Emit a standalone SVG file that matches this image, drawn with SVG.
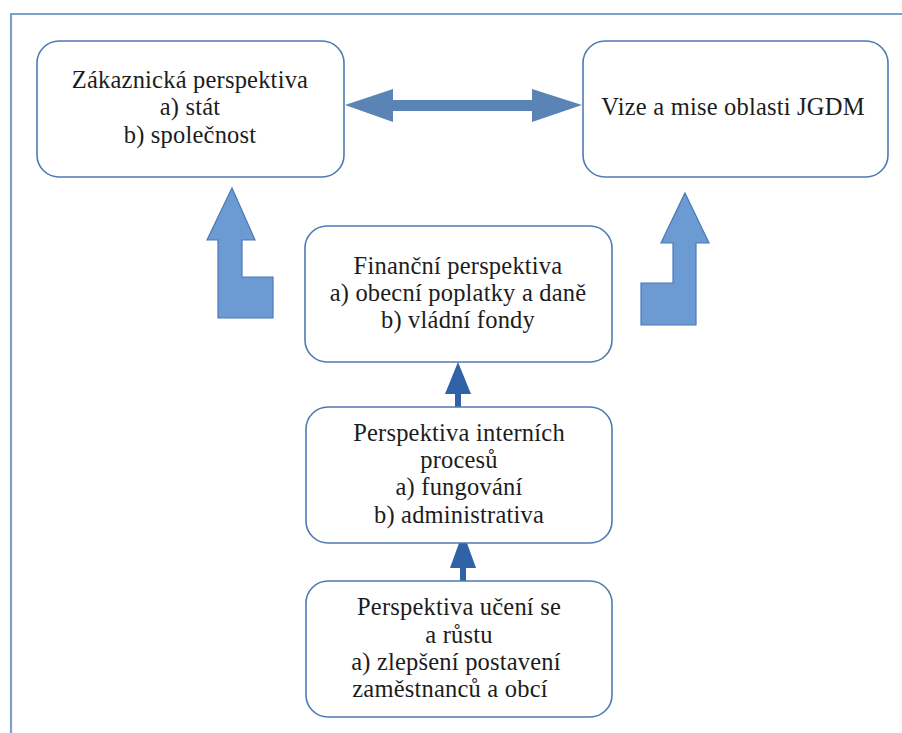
<svg xmlns="http://www.w3.org/2000/svg" width="902" height="733" viewBox="0 0 902 733">
  <style>
    .box { fill: #ffffff; stroke: #4f7ab3; stroke-width: 1.6; }
    .label { font-family: "Liberation Serif", "Times New Roman", serif; font-size: 24.5px; letter-spacing: 0.2px; fill: #1c1c1c; text-anchor: middle; }
    .bent { fill: #6c9ad2; stroke: #4b79b8; stroke-width: 1.2; stroke-linejoin: miter; }
    .dbl { fill: #5a83b6; }
    .up { fill: #2f62a6; }
  </style>
  <rect width="902" height="733" fill="#ffffff"/>
  <!-- outer frame (runs off the right and bottom edges) -->
  <path d="M11 733 V14 H902" fill="none" stroke="#7ea0cc" stroke-width="2.2"/>

  <g id="connectors">
    <!-- double-headed arrow between the two top boxes -->
    <polygon class="dbl" points="345,105 393,89 393,100 532,100 532,89 582,105 532,122 532,111 393,111 393,122"/>
    <!-- bent arrows rising towards the top boxes -->
    <polygon class="bent" points="232,188 255,240 242,240 242,277 273,277 273,318 218,318 218,240 207,240"/>
    <polygon class="bent" points="685,193 709,243 696,243 696,325 641,325 641,283 673,283 673,243 661,243"/>
    <!-- internal processes -> financial -->
    <polygon class="up" points="458,362 471,394 461,394 461,410 455,410 455,394 445,394"/>
    <!-- learning and growth -> internal processes -->
    <polygon class="up" points="463,532 476,568 466,568 466,588 460,588 460,568 450,568"/>
  </g>

  <g id="customer">
    <rect class="box" x="37" y="41" width="307" height="136" rx="22"/>
    <text class="label" x="190" y="88">Zákaznická perspektiva</text>
    <text class="label" x="190" y="115">a) stát</text>
    <text class="label" x="190" y="143">b) společnost</text>
  </g>

  <g id="vision">
    <rect class="box" x="583" y="41" width="305" height="136" rx="22"/>
    <text class="label" x="733" y="115">Vize a mise oblasti JGDM</text>
  </g>

  <g id="financial">
    <rect class="box" x="305" y="226" width="307" height="136" rx="22"/>
    <text class="label" x="458" y="274">Finanční perspektiva</text>
    <text class="label" x="458" y="301">a) obecní poplatky a daně</text>
    <text class="label" x="458" y="328">b) vládní fondy</text>
  </g>

  <g id="internal">
    <rect class="box" x="306" y="407" width="306" height="136" rx="22"/>
    <text class="label" x="459" y="441">Perspektiva interních</text>
    <text class="label" x="459" y="468">procesů</text>
    <text class="label" x="459" y="495">a) fungování</text>
    <text class="label" x="459" y="523">b) administrativa</text>
  </g>

  <g id="learning">
    <rect class="box" x="306" y="581" width="306" height="136" rx="22"/>
    <text class="label" x="459" y="615">Perspektiva učení se</text>
    <text class="label" x="459" y="643">a růstu</text>
    <text class="label" x="456" y="670">a) zlepšení postavení</text>
    <text class="label" x="450" y="697">zaměstnanců a obcí</text>
  </g>
</svg>
